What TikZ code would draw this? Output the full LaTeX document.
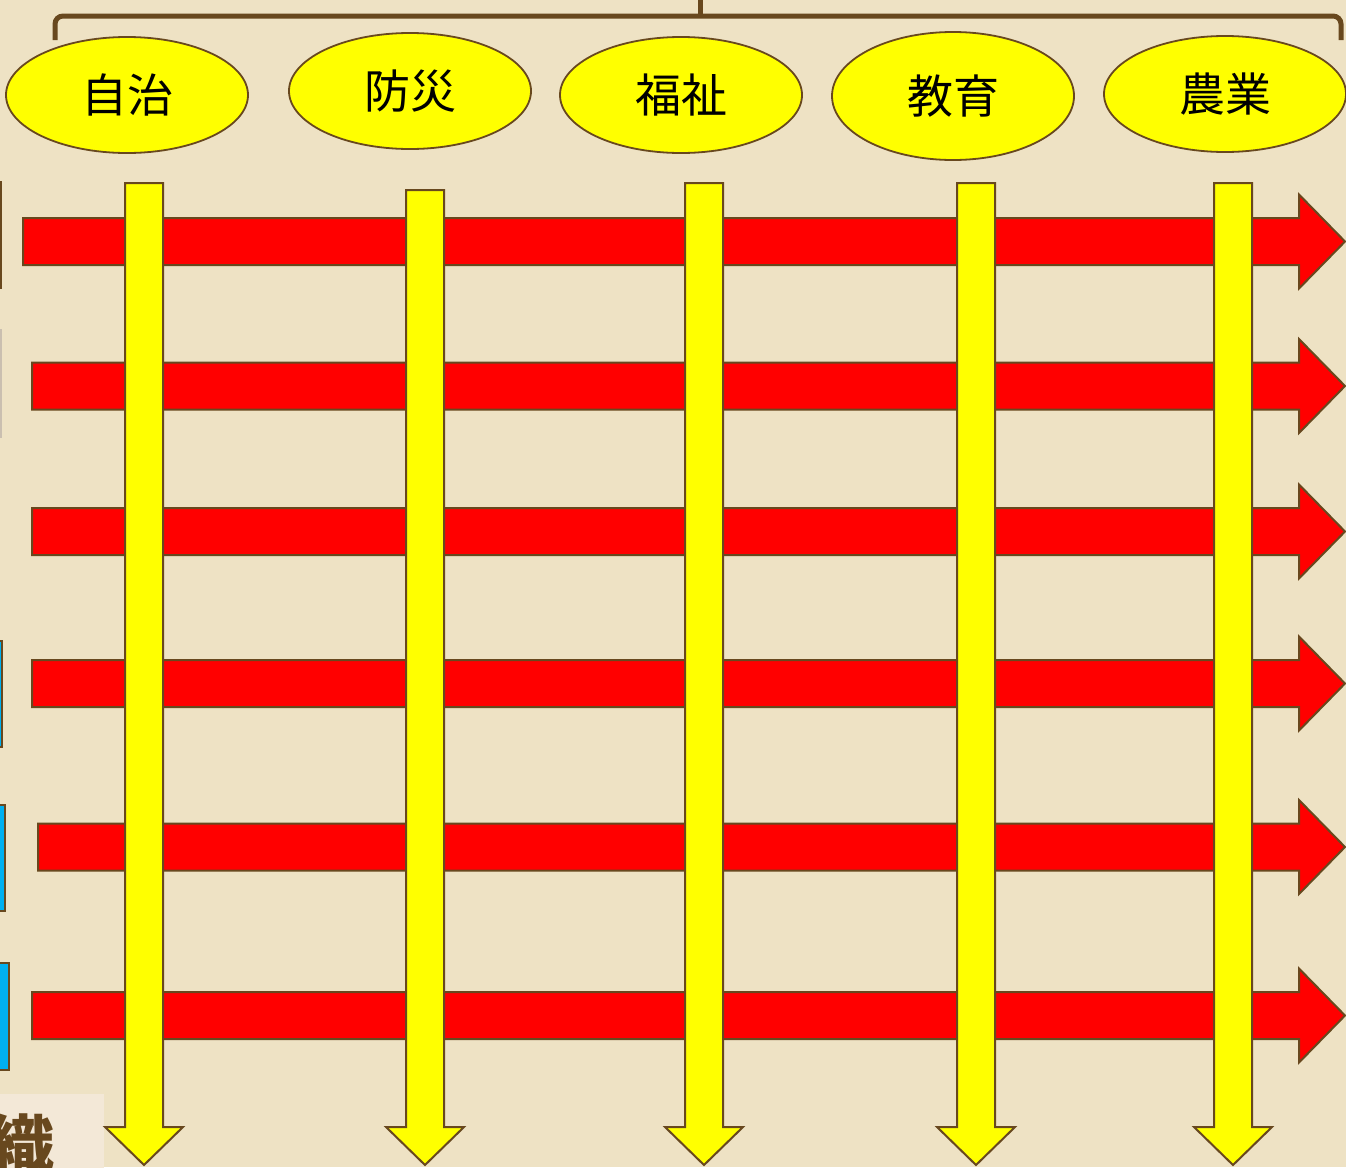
\documentclass[tikz,border=0pt]{standalone}
\usepackage{fontspec}
\newfontfamily\jp{Noto Sans CJK JP}
\usetikzlibrary{shapes.geometric}
\definecolor{paper}{RGB}{238,226,196}
\definecolor{brn}{RGB}{104,72,30}
\definecolor{ylw}{RGB}{255,255,0}
\definecolor{rd}{RGB}{255,0,0}
\definecolor{blu}{RGB}{0,176,240}
\definecolor{cream}{RGB}{243,232,215}
\tikzset{
  oval/.style={ellipse, draw=brn, line width=1.8pt, fill=ylw, minimum width=242, minimum height=116, inner sep=0pt, font=\jp\fontsize{46}{46}\selectfont},
  yarr/.style={draw=brn, line width=2pt, fill=ylw, line join=miter},
  rarr/.style={draw=brn, line width=2pt, fill=rd, line join=miter},
  bracket/.style={draw=brn, line width=5pt},
  sidebox/.style={draw=brn, line width=2pt},
}
\newcommand{\yArrow}[2]{% center x, top y
  \path[yarr] (#1-19,#2) -- (#1+19,#2) -- (#1+19,1127) -- (#1+39,1127) -- (#1,1165) -- (#1-39,1127) -- (#1-19,1127) -- cycle;}
\newcommand{\rArrow}[2]{% left x, center y
  \path[rarr] (#1,#2-23.5) -- (1299,#2-23.5) -- (1299,#2-47) -- (1345,#2) -- (1299,#2+47) -- (1299,#2+23.5) -- (#1,#2+23.5) -- cycle;}
\begin{document}
\begin{tikzpicture}[x=1pt,y=-1pt]
\useasboundingbox (0,0) rectangle (1346,1167);
\clip (0,0) rectangle (1346,1167);
\fill[paper] (0,0) rectangle (1346,1167);

% bracket
\draw[bracket, rounded corners=8pt] (55,40) -- (55,16) -- (1341,16) -- (1341,40);
\draw[bracket] (700,0) -- (700,16);

% left partial boxes
\path[sidebox, fill=paper] (-100,182) rectangle (1,288);
\path[sidebox, draw=brn!35, fill=paper] (-100,330) rectangle (1,437);
\path[sidebox, fill=blu] (-100,641) rectangle (2,747);
\path[sidebox, fill=blu] (-100,805) rectangle (4.5,911);
\path[sidebox, fill=blu] (-100,963) rectangle (9,1070);

% bottom-left label box
\fill[cream] (-10,1094) rectangle (104,1180);
\node[anchor=base east, inner sep=0pt, text=brn, font=\jp\bfseries\fontsize{64}{64}\selectfont] (orgtxt) at (55,1168) {織};

% ellipses
\node[oval] (e1) at (127,95) {自治};
\node[oval] (e2) at (410,91) {防災};
\node[oval] (e3) at (681,95) {福祉};
\node[oval, minimum height=128] (e4) at (953,96) {教育};
\node[oval] (e5) at (1225,94) {農業};

% red horizontal arrows
\rArrow{23}{241.5}
\rArrow{32}{386}
\rArrow{32}{531.5}
\rArrow{32}{683.5}
\rArrow{38}{847}
\rArrow{32}{1015.5}

% yellow vertical arrows
\yArrow{144}{183}
\yArrow{425}{190}
\yArrow{704}{183}
\yArrow{976}{183}
\yArrow{1233}{183}
\end{tikzpicture}
\end{document}
